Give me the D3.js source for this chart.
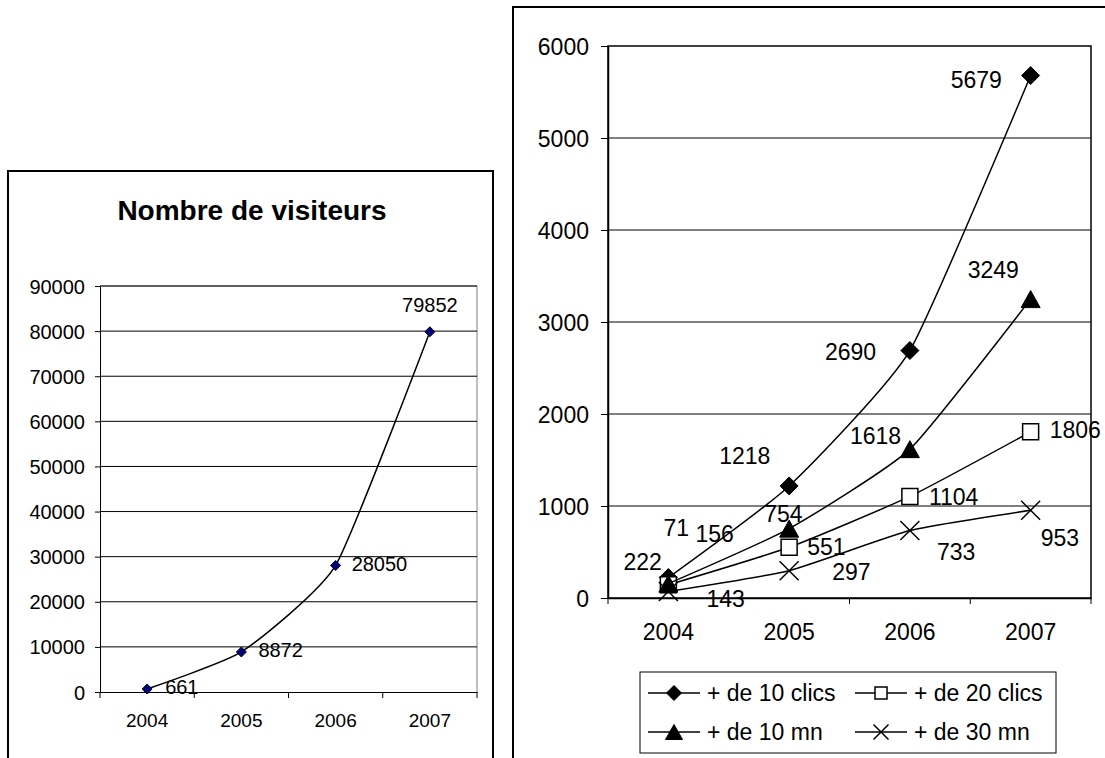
<!DOCTYPE html>
<html>
<head>
<meta charset="utf-8">
<script src="https://cdn.jsdelivr.net/npm/d3@7"></script>
<style>
  body { margin: 0; background: #fff; }
  text { font-family: Arial, "Liberation Sans", sans-serif; fill: #000; }
</style>
</head>
<body>
<script>
// data
var years = ["2004", "2005", "2006", "2007"];
var visiteurs = [661, 8872, 28050, 79852];
var clics10 = [222, 1218, 2690, 5679];
var clics20 = [143, 551, 1104, 1806];
var mn10 = [156, 754, 1618, 3249];
var mn30 = [71, 297, 733, 953];
var seriesNames = ["+ de 10 clics", "+ de 20 clics", "+ de 10 mn", "+ de 30 mn"];
var leftTicks = [0, 10000, 20000, 30000, 40000, 50000, 60000, 70000, 80000, 90000];
var rightTicks = [0, 1000, 2000, 3000, 4000, 5000, 6000];

// label placement (dx from point to text start, dy to text middle)
var leftLabelPos = [[18, -2], [17, -2], [16, -1], [0, -27]];
var rightLabelPos = [
  [[-45, -16], [-70, -30], [-85, 1], [-80, 4]],   // diamonds
  [[38, 14], [18, 0], [19, 1], [19, -2]],         // squares
  [[27, -50], [-25, -15], [-60, -13], [-63, -29]],// triangles
  [[-5, -64], [43, 1], [27, 21], [10, 28]]        // crosses
];

var width = 1105,
    height = 758;

var svg = d3.select("body").append("svg")
  .attr("width", width)
  .attr("height", height)
  .attr("id", "canvas");

function marker(type, s) {
  var h = s / 2;
  if (type == "diamond") return "M0," + (-h) + "L" + h + ",0L0," + h + "L" + (-h) + ",0Z";
  if (type == "square") return "M" + (-h) + "," + (-h) + "h" + s + "v" + s + "h" + (-s) + "Z";
  if (type == "triangle") return "M0," + (-h) + "L" + (h + 1) + "," + h + "L" + (-h - 1) + "," + h + "Z";
  return "M" + (-h) + "," + (-h) + "L" + h + "," + h + "M" + (-h) + "," + h + "L" + h + "," + (-h);
}

var smooth = d3.curveCardinal.tension(0.5);
var fmt = d3.format("d");

//---------------- left chart ----------------
svg.append("rect")
  .attr("x", 8).attr("y", 171)
  .attr("width", 485).attr("height", 620)
  .attr("fill", "none").attr("stroke", "#000").attr("stroke-width", 2);

svg.append("text")
  .attr("x", 252).attr("y", 220)
  .attr("text-anchor", "middle")
  .style("font-size", "28px").style("font-weight", "bold")
  .text("Nombre de visiteurs");

var lm = {left: 100, top: 286},
    lw = 377, lh = 406;

var gl = svg.append("g")
  .attr("transform", "translate(" + lm.left + "," + lm.top + ")");

var xl = d3.scaleBand().domain(years).range([0, lw]);
var yl = d3.scaleLinear().domain([0, 90000]).range([lh, 0]);

// plot area border (grey)
gl.append("path")
  .attr("d", "M0,0H" + lw + "V" + lh)
  .attr("fill", "none").attr("stroke", "#808080").attr("stroke-width", 1);

gl.selectAll(".grid").data(leftTicks.slice(1))
  .enter().append("line")
  .attr("class", "grid")
  .attr("x1", 0).attr("x2", lw)
  .attr("y1", function(d) { return yl(d); })
  .attr("y2", function(d) { return yl(d); })
  .attr("stroke", "#000").attr("stroke-width", 1);

var ylAxis = gl.append("g")
  .call(d3.axisLeft(yl).tickValues(leftTicks).tickFormat(fmt).tickSize(5).tickSizeOuter(0).tickPadding(10));
ylAxis.selectAll("text").style("font-size", "20px").attr("dy", "0.35em");

var xlAxis = gl.append("g")
  .attr("transform", "translate(0," + lh + ")")
  .call(d3.axisBottom(xl).tickSize(0).tickSizeOuter(0));
xlAxis.selectAll("text").style("font-size", "19px")
  .attr("y", 28).attr("dy", "0.35em");

gl.selectAll(".xtick").data(years.concat(["end"]))
  .enter().append("line")
  .attr("class", "xtick")
  .attr("x1", function(d) { return d == "end" ? lw : xl(d); })
  .attr("x2", function(d) { return d == "end" ? lw : xl(d); })
  .attr("y1", lh).attr("y2", lh + 6)
  .attr("stroke", "#000");

svg.selectAll(".domain").attr("stroke", "#000");

var lineL = d3.line()
  .x(function(d, i) { return xl(years[i]) + xl.bandwidth() / 2; })
  .y(function(d) { return yl(d); })
  .curve(smooth);

gl.append("path")
  .attr("d", lineL(visiteurs))
  .attr("fill", "none").attr("stroke", "#000").attr("stroke-width", 1.5);

gl.selectAll(".pt").data(visiteurs)
  .enter().append("path")
  .attr("class", "pt")
  .attr("transform", function(d, i) {
    return "translate(" + (xl(years[i]) + xl.bandwidth() / 2) + "," + yl(d) + ")";
  })
  .attr("d", marker("diamond", 10))
  .attr("fill", "#000080").attr("stroke", "#000").attr("stroke-width", 1);

gl.selectAll(".lbl").data(visiteurs)
  .enter().append("text")
  .attr("class", "lbl")
  .attr("x", function(d, i) { return xl(years[i]) + xl.bandwidth() / 2 + leftLabelPos[i][0]; })
  .attr("y", function(d, i) { return yl(d) + leftLabelPos[i][1]; })
  .attr("dy", "0.35em")
  .attr("text-anchor", function(d, i) { return i == 3 ? "middle" : "start"; })
  .style("font-size", "20px")
  .text(function(d) { return d; });

//---------------- right chart ----------------
svg.append("rect")
  .attr("x", 513).attr("y", 7)
  .attr("width", 600).attr("height", 800)
  .attr("fill", "none").attr("stroke", "#000").attr("stroke-width", 2);

var rm = {left: 608, top: 46},
    rw = 483, rh = 552;

var gr = svg.append("g")
  .attr("transform", "translate(" + rm.left + "," + rm.top + ")");

var xr = d3.scaleBand().domain(years).range([0, rw]);
var yr = d3.scaleLinear().domain([0, 6000]).range([rh, 0]);

gr.append("rect")
  .attr("width", rw).attr("height", rh)
  .attr("fill", "none").attr("stroke", "#000").attr("stroke-width", 1.5);

gr.selectAll(".grid").data(rightTicks.slice(1, -1))
  .enter().append("line")
  .attr("class", "grid")
  .attr("x1", 0).attr("x2", rw)
  .attr("y1", function(d) { return yr(d); })
  .attr("y2", function(d) { return yr(d); })
  .attr("stroke", "#000").attr("stroke-width", 1);

var yrAxis = gr.append("g")
  .call(d3.axisLeft(yr).tickValues(rightTicks).tickFormat(fmt).tickSize(7).tickSizeOuter(0).tickPadding(12));
yrAxis.selectAll("text").style("font-size", "23px").attr("dy", "0.35em");
yrAxis.select(".domain").attr("stroke-width", 1.5);

var xrAxis = gr.append("g")
  .attr("transform", "translate(0," + rh + ")")
  .call(d3.axisBottom(xr).tickSize(0).tickSizeOuter(0));
xrAxis.selectAll("text").style("font-size", "23px")
  .attr("y", 34).attr("dy", "0.35em");
xrAxis.select(".domain").attr("stroke-width", 1.5);

gr.selectAll(".xtick").data(years.concat(["end"]))
  .enter().append("line")
  .attr("class", "xtick")
  .attr("x1", function(d) { return d == "end" ? rw : xr(d); })
  .attr("x2", function(d) { return d == "end" ? rw : xr(d); })
  .attr("y1", rh).attr("y2", rh + 6)
  .attr("stroke", "#000");

var rightSeries = [
  {name: seriesNames[0], values: clics10, shape: "diamond", size: 18},
  {name: seriesNames[1], values: clics20, shape: "square", size: 16},
  {name: seriesNames[2], values: mn10, shape: "triangle", size: 17},
  {name: seriesNames[3], values: mn30, shape: "cross", size: 19}
];

var lineR = d3.line()
  .x(function(d, i) { return xr(years[i]) + xr.bandwidth() / 2; })
  .y(function(d) { return yr(d); })
  .curve(smooth);

function styleMarker(sel, s) {
  sel.attr("d", marker(s.shape, s.size))
    .attr("fill", s.shape == "square" ? "#fff" : (s.shape == "cross" ? "none" : "#000"))
    .attr("stroke", "#000")
    .attr("stroke-width", s.shape == "square" || s.shape == "cross" ? 1.5 : 1);
}

rightSeries.forEach(function(s, k) {
  var gs = gr.append("g").attr("class", "series");
  gs.append("path")
    .attr("d", lineR(s.values))
    .attr("fill", "none").attr("stroke", "#000").attr("stroke-width", 1.5);
  gs.selectAll(".pt").data(s.values)
    .enter().append("path")
    .attr("class", "pt")
    .attr("transform", function(d, i) {
      return "translate(" + (xr(years[i]) + xr.bandwidth() / 2) + "," + yr(d) + ")";
    })
    .call(styleMarker, s);
});

rightSeries.forEach(function(s, k) {
  gr.selectAll(".lbl" + k).data(s.values)
    .enter().append("text")
    .attr("class", "lbl" + k)
    .attr("x", function(d, i) { return xr(years[i]) + xr.bandwidth() / 2 + rightLabelPos[k][i][0]; })
    .attr("y", function(d, i) { return yr(d) + rightLabelPos[k][i][1]; })
    .attr("dy", "0.35em")
    .style("font-size", "23px")
    .text(function(d) { return d; });
});

// legend
var legend = svg.append("g").attr("transform", "translate(640,672)");
legend.append("rect")
  .attr("width", 416).attr("height", 81)
  .attr("fill", "#fff").attr("stroke", "#000").attr("stroke-width", 1);

var legCol = [8, 215], legRow = [21, 60];
var items = legend.selectAll(".item").data(rightSeries)
  .enter().append("g")
  .attr("class", "item")
  .attr("transform", function(d, i) {
    return "translate(" + legCol[i % 2] + "," + legRow[Math.floor(i / 2)] + ")";
  });
items.append("line")
  .attr("x1", 0).attr("x2", 52)
  .attr("stroke", "#000").attr("stroke-width", 1.5);
items.append("path")
  .attr("transform", "translate(26,0)")
  .each(function(d) {
    var small = {shape: d.shape, size: d.shape == "square" ? 12 : 15};
    styleMarker(d3.select(this), small);
  });
items.append("text")
  .attr("x", 59).attr("dy", "0.35em")
  .style("font-size", "23px")
  .text(function(d) { return d.name; });
</script>
</body>
</html>
